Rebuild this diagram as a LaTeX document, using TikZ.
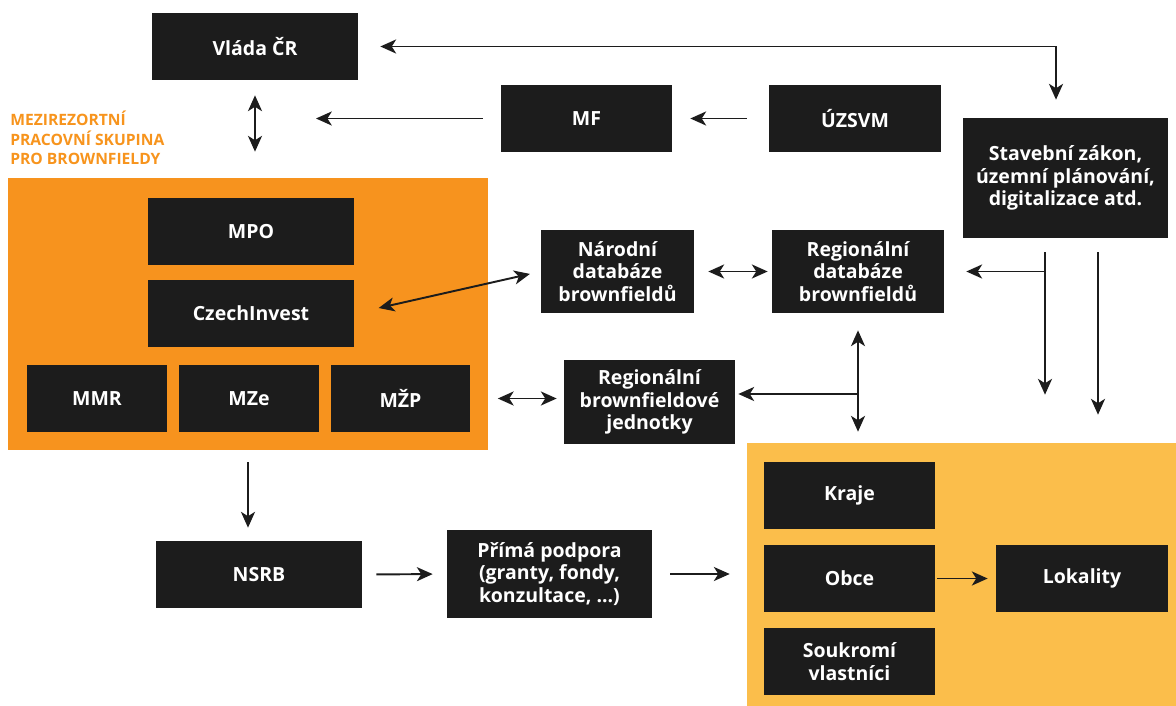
\documentclass[tikz,border=0pt]{standalone}
\usepackage{fontspec}
\setmainfont{Open Sans}
\usepackage{xcolor}
\usetikzlibrary{arrows.meta}

\definecolor{boxdark}{HTML}{1C1C1C}
\definecolor{grouporange}{HTML}{F7931E}
\definecolor{grouplight}{HTML}{FBBE4B}
\definecolor{labelorange}{HTML}{F7941D}

\begin{document}
\begin{tikzpicture}[x=0.02cm, y=-0.02cm,
    box/.style={fill=boxdark, text=white, align=center, font=\fontsize{11.1}{13}\selectfont\bfseries, inner sep=0pt},
    group/.style={inner sep=0pt},
    arr/.style={draw=boxdark, line width=1.1pt, -{Stealth[length=9pt, width=8pt, inset=2.5pt]}},
    dbl/.style={draw=boxdark, line width=1.1pt, {Stealth[length=9pt, width=8pt, inset=2.5pt]}-{Stealth[length=9pt, width=8pt, inset=2.5pt]}}]
    \useasboundingbox (0,0) rectangle (1176,706);

    % groups
    \node[group, fill=grouporange, minimum width=9.6cm, minimum height=5.44cm] (orange) at (248,314) {};
    \node[group, fill=grouplight, minimum width=8.58cm, minimum height=5.26cm] (light) at (961.5,574.5) {};
    \node[anchor=north west, align=left, text=labelorange, inner sep=0pt,
        font=\fontsize{8.9}{11}\selectfont\bfseries] (grouplabel) at (10,111)
        {MEZIREZORTNÍ\\PRACOVNÍ SKUPINA\\PRO BROWNFIELDY};

    % top row
    \node[box, minimum width=4.12cm, minimum height=1.34cm] (vlada) at (255,46.5) {Vláda ČR};
    \node[box, minimum width=3.42cm, minimum height=1.34cm] (mf) at (586.5,118.5) {MF};
    \node[box, minimum width=3.44cm, minimum height=1.34cm] (uzsvm) at (855,118.5) {ÚZSVM};
    \node[box, minimum width=4.1cm, minimum height=2.4cm] (stav) at (1065.5,178)
        {Stavební zákon,\\územní plánování,\\digitalizace atd.};

    % ministries
    \node[box, minimum width=4.12cm, minimum height=1.34cm] (mpo) at (251,231.5) {MPO};
    \node[box, minimum width=4.12cm, minimum height=1.34cm] (czech) at (251,313.5) {CzechInvest};
    \node[box, minimum width=2.8cm, minimum height=1.34cm] (mmr) at (97,398.5) {MMR};
    \node[box, minimum width=2.8cm, minimum height=1.34cm] (mze) at (249,398.5) {MZe};
    \node[box, minimum width=2.8cm, minimum height=1.34cm] (mzp) at (400.5,398.5) {MŽP};

    % databases
    \node[box, minimum width=3.06cm, minimum height=1.66cm] (narodni) at (617.5,271.5)
        {Národní\\databáze\\brownfieldů};
    \node[box, minimum width=3.44cm, minimum height=1.66cm] (regdb) at (858,271.5)
        {Regionální\\databáze\\brownfieldů};
    \node[box, minimum width=3.42cm, minimum height=1.68cm] (regjed) at (649.5,402)
        {Regionální\\brownfieldové\\jednotky};

    % bottom row
    \node[box, minimum width=4.12cm, minimum height=1.34cm] (nsrb) at (259,574.5) {NSRB};
    \node[box, minimum width=4.1cm, minimum height=1.76cm] (prima) at (549.5,574)
        {Přímá podpora\\(granty, fondy,\\konzultace, ...)};
    \node[box, minimum width=3.42cm, minimum height=1.34cm] (kraje) at (849.5,495.5) {Kraje};
    \node[box, minimum width=3.42cm, minimum height=1.34cm] (obce) at (849.5,578.5) {Obce};
    \node[box, minimum width=3.42cm, minimum height=1.34cm] (souk) at (849.5,661.5) {Soukromí\\vlastníci};
    \node[box, minimum width=3.44cm, minimum height=1.34cm] (lokality) at (1082,578.5) {Lokality};

    % connectors
    \draw[dbl, shorten <=0.44cm, shorten >=0.36cm] (vlada.east) -| ([xshift=-0.19cm]stav.north);
    \draw[dbl, shorten <=0.3cm, shorten >=0.52cm] (vlada.south) -- (vlada.south |- orange.north);
    \draw[arr, shorten <=0.36cm, shorten >=1.22cm] (mf.west) -- (vlada.south |- mf.west);
    \draw[arr, shorten <=0.44cm, shorten >=0.36cm] (uzsvm.west) -- (mf.east);
    \draw[dbl, shorten <=0.22cm, shorten >=0.5cm] (narodni.west) -- (czech.east);
    \draw[dbl, shorten <=0.28cm, shorten >=0.08cm] (narodni.east) -- (regdb.west);

    \coordinate (s1) at ([xshift=-0.41cm]stav.south);
    \coordinate (s2) at ([xshift=0.65cm]stav.south);
    \draw[arr, shorten <=0.28cm, shorten >=0.96cm] (s1) -- (s1 |- light.north);
    \draw[arr, shorten >=0.44cm] (regdb.east -| s1) -- (regdb.east);
    \draw[arr, shorten <=0.28cm, shorten >=0.56cm] (s2) -- (s2 |- light.north);

    \draw[dbl, shorten <=0.34cm, shorten >=0.22cm] (regdb.south) -- (regdb.south |- light.north);
    \draw[arr, shorten >=0.06cm] ([yshift=0.16cm]regjed.east -| regdb.south) -- ([yshift=0.16cm]regjed.east);
    \draw[dbl, shorten <=0.54cm, shorten >=0.14cm] (mzp.east) -- (mzp.east -| regjed.west);

    \draw[arr, shorten <=0.24cm, shorten >=0.26cm] (orange.south) -- (orange.south |- nsrb.north);
    \draw[arr, shorten <=0.28cm, shorten >=0.28cm] (nsrb.east) -- (prima.west);
    \draw[arr, shorten <=0.36cm, shorten >=0.34cm] (prima.east) -- (prima.east -| light.west);
    \draw[arr, shorten <=0.04cm, shorten >=0.16cm] (obce.east) -- (lokality.west);
\end{tikzpicture}
\end{document}
